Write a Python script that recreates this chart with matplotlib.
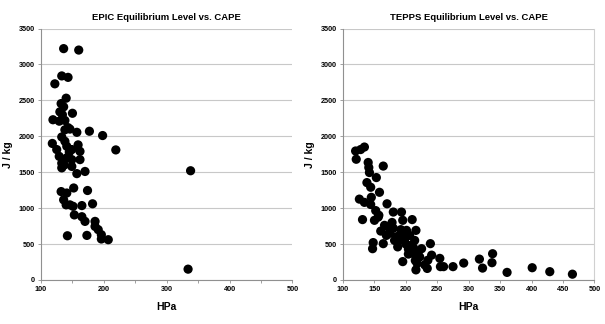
import matplotlib
matplotlib.use("Agg")
import matplotlib.pyplot as plt
from matplotlib.ticker import MultipleLocator

# EPIC: equilibrium level (hPa) vs CAPE (J/kg)
epic_hpa = [136, 160, 122, 133, 143, 140, 132, 136, 130, 134, 150, 119, 129, 138,
            143, 146, 157, 138, 177, 198, 219, 133, 138, 118, 125, 141, 149, 159,
            162, 162, 129, 133, 141, 149, 149, 133, 157, 170, 132, 141, 136, 146,
            151, 152, 174, 182, 165, 153, 165, 170, 186, 191, 196, 186, 142, 173,
            196, 207, 338, 334, 140, 137, 145]
epic_cape = [3220, 3200, 2730, 2840, 2820, 2530, 2455, 2410, 2340, 2300, 2320, 2230,
             2210, 2220, 2120, 2100, 2055, 2090, 2070, 2010, 1810, 1990, 1930, 1900,
             1815, 1860, 1815, 1880, 1790, 1675, 1720, 1625, 1700, 1675, 1580, 1560,
             1480, 1510, 1230, 1210, 1115, 1045, 1025, 1280, 1245, 1060, 1035, 905,
             880, 815, 815, 700, 630, 745, 615, 620, 570, 560, 1520, 150, 1045, 1600,
             1780]

# TEPPS: equilibrium level (hPa) vs CAPE (J/kg)
tepps_hpa = [120, 121, 128, 134, 140, 141, 142, 164, 153, 138, 144, 158, 126, 134,
             145, 144, 152, 170, 156, 131, 150, 180, 193, 195, 210, 172, 169, 164,
             148, 147, 182, 190, 201, 187, 206, 209, 216, 214, 211, 195, 225, 222,
             218, 216, 239, 241, 234, 235, 254, 255, 260, 275, 292, 317, 322, 338,
             337, 361, 401, 429, 465, 176, 185, 198, 178, 204, 160, 166, 215, 230,
             174, 180, 188, 196, 200, 157, 212, 220, 204, 192]
tepps_cape = [1795, 1680, 1815, 1850, 1635, 1565, 1495, 1585, 1425, 1355, 1290, 1220,
              1125, 1080, 1150, 1050, 965, 1060, 875, 840, 830, 945, 945, 830, 840,
              735, 620, 505, 520, 435, 550, 620, 690, 460, 620, 485, 690, 550, 370,
              255, 435, 320, 230, 140, 505, 345, 160, 275, 300, 185, 185, 185, 235,
              290, 165, 365, 240, 105, 170, 115, 80, 700, 600, 560, 800, 430, 680,
              760, 270, 210, 650, 720, 540, 600, 500, 900, 450, 400, 360, 700]

panels = [
    ("EPIC Equilibrium Level vs. CAPE", epic_hpa, epic_cape, 100, 0.0678, False),
    ("TEPPS Equilibrium Level vs. CAPE", tepps_hpa, tepps_cape, 50, 0.567, True),
]

fig = plt.figure(figsize=(6.05, 3.24), dpi=100)
fig.patch.set_facecolor("white")
plt.rcParams["font.family"] = ["Liberation Sans", "DejaVu Sans"]

for title, xs, ys, major, left, right_spine in panels:
    ax = fig.add_axes([left, 0.136, 0.4155, 0.776])
    ax.scatter(xs, ys, s=44, color="black", edgecolors="none", zorder=3)
    ax.set_xlim(100, 500)
    ax.set_ylim(0, 3500)
    ax.xaxis.set_major_locator(MultipleLocator(major))
    ax.xaxis.set_minor_locator(MultipleLocator(50))
    ax.yaxis.set_major_locator(MultipleLocator(500))
    ax.grid(axis="y", color="#c8c8c8", linewidth=0.8, zorder=0)
    ax.set_axisbelow(True)
    for side in ["top", "right"]:
        ax.spines[side].set_visible(False)
    if right_spine:
        ax.spines["right"].set_visible(True)
        ax.spines["right"].set_color("#d0d0d0")
        ax.spines["right"].set_linewidth(0.8)
    for side in ["left", "bottom"]:
        ax.spines[side].set_color("#909090")
        ax.spines[side].set_linewidth(0.8)
    ax.tick_params(axis="both", which="both", direction="out", length=2.5,
                   width=0.6, color="#909090", labelsize=5.2, pad=2)
    for lab in ax.get_xticklabels() + ax.get_yticklabels():
        lab.set_fontweight("bold")
    ax.set_title(title, fontsize=6.8, fontweight="bold", pad=6)
    ax.set_xlabel("HPa", fontsize=7.5, fontweight="bold", labelpad=6)
    ax.set_ylabel("J / kg", fontsize=7.5, fontweight="bold", labelpad=4)

fig.savefig("out.png", dpi=100, facecolor="white")
